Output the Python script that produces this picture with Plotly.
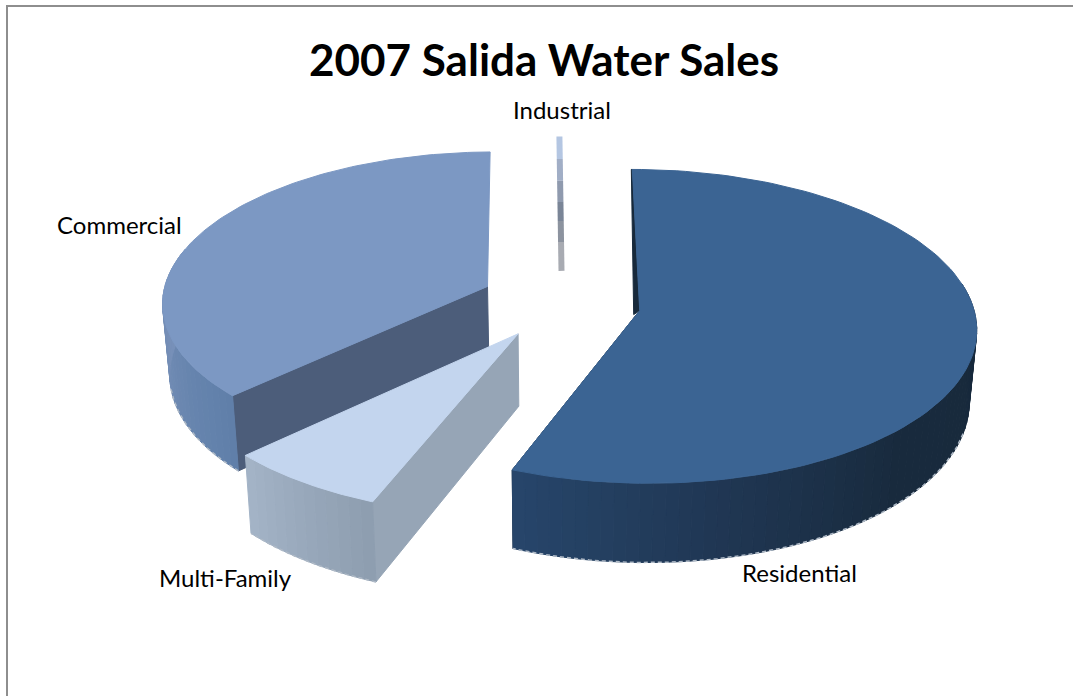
import math
import plotly.graph_objects as go

# Water sales shares by customer class, percent of the 2007 total
categories = ["Residential", "Multi-Family", "Commercial", "Industrial"]
shares = [56.0, 6.85, 36.95, 0.2]
# how far each slice is pulled out of the pie, its bearing, and its relative size
explosion = [0.245, 0.225, 0.246, 0.22]
bearing = [100.0, 212.4, 298.0, 2.0]
slice_radius = [1.0, 1.02, 0.98, 1.0]

TITLE = "2007 Salida Water Sales"
FONT = "Lato"

TOP_COLORS = {"Residential": "#3B6493", "Multi-Family": "#C3D5EE", "Commercial": "#7C98C3"}
CUT_COLORS = {"Residential": "#17293B", "Multi-Family": "#96A5B6", "Commercial": "#4C5D7A"}
# side shading: (angle in degrees clockwise from twelve o'clock, colour)
SIDE_STOPS = {
    "Residential": [(80, "#17293B"), (135, "#182A3D"), (170, "#203754"), (202, "#27466B")],
    "Multi-Family": [(201, "#8C9CAE"), (228, "#A6B6C9")],
    "Commercial": [(226, "#5F7FA9"), (270, "#7790B8"), (300, "#7C98C3")],
}
INDUSTRIAL_BANDS = ["#B4C6E2", "#A1AEC6", "#8F9AAE", "#7A8597", "#8C939F", "#A8ABB2"]
INDUSTRIAL_EDGES = [1.0, 0.82, 0.65, 0.49, 0.35, 0.2, 0.0]

# Perspective camera used to turn the tilted pie into screen positions
VANISH_X, CENTER_Y = 559, 304
RADIUS_X, RADIUS_Y = 333, 154
PERSPECTIVE = 0.10
THICKNESS = 71
BOTTOM_SHRINK = 0.982


def project(wx, wy, bottom=False):
    s = 1 + PERSPECTIVE * wy
    px = VANISH_X + RADIUS_X * wx / s
    py = CENTER_Y - RADIUS_Y * wy / s
    if bottom:
        px = VANISH_X + (px - VANISH_X) * BOTTOM_SHRINK
        py += THICKNESS / s
    return px, py


def rim(angle, sl, bottom=False, r=1.0):
    a = math.radians(angle)
    r = r * sl["radius"]
    return project(sl["origin"][0] + r * math.sin(a), sl["origin"][1] + r * math.cos(a), bottom)


def hex_mix(c1, c2, t):
    a = [int(c1[i:i + 2], 16) for i in (1, 3, 5)]
    b = [int(c2[i:i + 2], 16) for i in (1, 3, 5)]
    return "#" + "".join(f"{round(x + (y - x) * t):02X}" for x, y in zip(a, b))


def shade(stops, angle):
    for (a0, c0), (a1, c1) in zip(stops, stops[1:]):
        if a0 <= angle <= a1:
            return hex_mix(c0, c1, (angle - a0) / (a1 - a0))
    return stops[0][1] if angle < stops[0][0] else stops[-1][1]


fig = go.Figure()


def polygon(points, color):
    xs = [p[0] for p in points] + [points[0][0]]
    ys = [p[1] for p in points] + [points[0][1]]
    fig.add_trace(go.Scatter(x=xs, y=ys, mode="lines", fill="toself", fillcolor=color,
                             line=dict(color=color, width=1), hoverinfo="skip", showlegend=False))


# Slice layout from the shares, clockwise from twelve o'clock
slices = {}
start = 0.0
for name, share, ex, brg, rad in zip(categories, shares, explosion, bearing, slice_radius):
    sweep = share * 3.6
    b = math.radians(brg)
    slices[name] = dict(a0=start, a1=start + sweep, radius=rad,
                        origin=(ex * math.sin(b), ex * math.cos(b)))
    start += sweep


def draw_slice(name, cut_angle, side_from, side_to, foot_from, foot_to):
    sl = slices[name]
    origin = sl["origin"]
    # flat cut face
    polygon([project(*origin), rim(cut_angle, sl),
             rim(cut_angle, sl, True), project(*origin, True)], CUT_COLORS[name])
    # curved outer wall, one narrow strip per step so the shading can change
    steps = max(8, int((side_to - side_from) / 2))
    for i in range(steps):
        a = side_from + (side_to - side_from) * i / steps
        b = side_from + (side_to - side_from) * (i + 1) / steps
        polygon([rim(a, sl), rim(b, sl), rim(b, sl, True), rim(a, sl, True)],
                shade(SIDE_STOPS[name], (a + b) / 2))
    # pale fringe along the foot of the wall
    foot = [rim(foot_from + (foot_to - foot_from) * i / 60, sl, True) for i in range(61)]
    fig.add_trace(go.Scatter(x=[p[0] for p in foot], y=[p[1] for p in foot], mode="lines",
                             line=dict(color="#AEB9C6", width=1.5, dash="4px,3px"),
                             hoverinfo="skip", showlegend=False))
    # top face
    arc = [rim(sl["a0"] + (sl["a1"] - sl["a0"]) * i / 120, sl) for i in range(121)]
    polygon([project(*origin)] + arc, TOP_COLORS[name])


com = slices["Commercial"]
draw_slice("Commercial", com["a0"], com["a0"], 285, com["a0"], 258)

# The industrial slice is only a sliver, drawn as a banded radial stroke
ind = slices["Industrial"]
ind_mid = (ind["a0"] + ind["a1"]) / 2
for color, r0, r1 in zip(INDUSTRIAL_BANDS, INDUSTRIAL_EDGES, INDUSTRIAL_EDGES[1:]):
    p0 = rim(ind_mid, ind, r=r0)
    p1 = rim(ind_mid, ind, r=r1)
    fig.add_trace(go.Scatter(x=[p0[0], p1[0]], y=[p0[1], p1[1]], mode="lines",
                             line=dict(color=color, width=6), hoverinfo="skip", showlegend=False))

mf = slices["Multi-Family"]
draw_slice("Multi-Family", mf["a0"], mf["a0"], mf["a1"], mf["a0"], mf["a1"])

# Residential: the far cut face shows as a thin dark edge beside the top face
res = slices["Residential"]
far = rim(res["a0"], res)
apex = project(*res["origin"])
polygon([far, apex, (apex[0] - 6, apex[1] + 4), (far[0] - 1, far[1])], CUT_COLORS["Residential"])
draw_slice("Residential", res["a1"], 80, res["a1"], 108, res["a1"])

label_positions = {
    "Residential": (799, 572),
    "Multi-Family": (225, 577),
    "Commercial": (119, 224),
    "Industrial": (562, 109),
}
annotations = [dict(x=label_positions[n][0], y=label_positions[n][1], text=n, showarrow=False,
                    xref="x", yref="y", font=dict(family=FONT, size=24, color="#000000"))
               for n in categories]
annotations.append(dict(x=544, y=59, text=f"<b>{TITLE}</b>", showarrow=False, xref="x", yref="y",
                        font=dict(family=FONT, size=44, color="#000000")))

# The chart frame only shows along its top and left edges
frame = dict(type="line", xref="x", yref="y", line=dict(color="#8E8E8E", width=2))
fig.update_layout(
    width=1073, height=696, margin=dict(l=0, r=0, t=0, b=0),
    paper_bgcolor="white", plot_bgcolor="white", showlegend=False,
    xaxis=dict(range=[0, 1073], visible=False, fixedrange=True),
    yaxis=dict(range=[696, 0], visible=False, fixedrange=True),
    annotations=annotations,
    shapes=[dict(frame, x0=6, y0=6, x1=1073, y1=6), dict(frame, x0=7, y0=6, x1=7, y1=696)],
)
fig.write_html("out.html", config=dict(displayModeBar=False))
